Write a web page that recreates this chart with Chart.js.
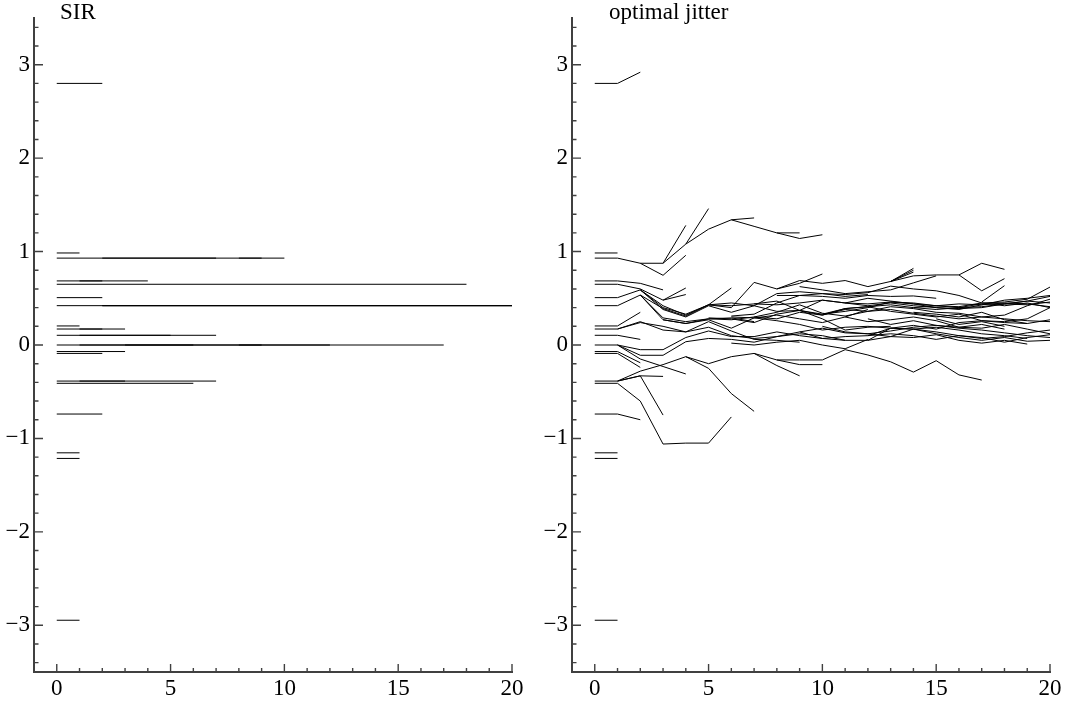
<!DOCTYPE html>
<html>
<head>
<meta charset="utf-8">
<script src="https://cdn.jsdelivr.net/npm/chart.js@4/dist/chart.umd.min.js"></script>
<style>
  html, body { margin: 0; padding: 0; background: #fff; }
  #wrap { position: relative; width: 1072px; height: 701px; }
  .panel { position: absolute; top: 0; width: 536px; height: 701px; }
</style>
</head>
<body>
<div id="wrap">
  <div class="panel" style="left:0"><canvas id="sir" width="536" height="701"></canvas></div>
  <div class="panel" style="left:536px"><canvas id="jitter" width="536" height="701"></canvas></div>
</div>
<script>
// Panel titles and axis ticks
const sirTitle = 'SIR';
const jitterTitle = 'optimal jitter';
const xTickValues = [0, 5, 10, 15, 20];
const yTickValues = [-3, -2, -1, 0, 1, 2, 3];
const xMinorStep = 1;
const yMinorStep = 0.2;

// SIR: particle values stay fixed; each row is one ancestry segment
const sirLevel = [2.80, 0.985, 0.93, 0.93, 0.93, 0.686, 0.686, 0.65, 0.507, 0.421, 0.421, 0.421,
                  0.204, 0.171, 0.171, 0.104, 0.104, 0.0, 0.0, 0.0, 0.0, -0.07, -0.09,
                  -0.386, -0.386, -0.41, -0.739, -1.154, -1.214, -2.946];
const sirFrom  = [0, 0, 0, 2, 8, 0, 1, 0, 0, 0, 2, 2,
                  0, 0, 1, 0, 1, 0, 1, 3, 8, 0, 0,
                  0, 1, 0, 0, 0, 0, 0];
const sirTo    = [2, 1, 10, 7, 9, 4, 2, 18, 2, 20, 20, 20,
                  1, 3, 2, 7, 5, 17, 12, 6, 9, 3, 2,
                  7, 3, 6, 2, 1, 1, 1];

// Optimal jitter: each path starts at step jitterStart[i] and moves each step
const jitterStart = [0, 0, 0, 3, 4, 6, 8, 2, 0, 0, 3, 0, 0,
                     2, 2, 2, 2, 0, 0, 7, 9, 11, 12, 14, 6,
                     8, 13, 13, 13, 16, 9, 8, 17, 12, 10, 14, 5, 3,
                     0, 1, 0, 1, 0, 0, 1, 0, 4, 8, 7, 1, 1, 0, 0, 0, 0, 0, 6,
                     10, 7, 9, 11, 5, 12, 6, 15];
const jitterPaths = [
  [2.80, 2.80, 2.92],
  [0.985, 0.985],
  [0.93, 0.93, 0.875, 0.875, 1.28],
  [0.875, 1.08, 1.24, 1.34, 1.36],
  [1.08, 1.46],
  [1.34, 1.27, 1.20, 1.20],
  [1.20, 1.14, 1.18],
  [0.875, 0.746, 0.96],
  [0.686, 0.686, 0.66, 0.59],
  [0.65, 0.65, 0.60, 0.48, 0.61],
  [0.48, 0.54],
  [0.507, 0.507, 0.59, 0.42, 0.32, 0.43, 0.61],
  [0.421, 0.421, 0.535, 0.39, 0.31, 0.43, 0.40, 0.67, 0.60, 0.66, 0.76],
  [0.59, 0.40, 0.33, 0.43, 0.42, 0.44, 0.43, 0.45, 0.48, 0.45, 0.44, 0.46, 0.45, 0.42, 0.41, 0.45, 0.46, 0.49, 0.62],
  [0.59, 0.38, 0.30, 0.42, 0.35, 0.42, 0.36, 0.37, 0.33, 0.39, 0.41, 0.43, 0.40, 0.38, 0.40, 0.44, 0.44, 0.47, 0.52],
  [0.535, 0.29, 0.25, 0.28, 0.27, 0.30, 0.28, 0.35, 0.32, 0.38, 0.36, 0.38, 0.34, 0.31, 0.28, 0.30, 0.32, 0.42, 0.49],
  [0.535, 0.27, 0.23, 0.27, 0.18, 0.29, 0.26, 0.22, 0.16, 0.19, 0.20, 0.18, 0.21, 0.17, 0.24, 0.26, 0.24, 0.23, 0.27],
  [0.171, 0.171, 0.24, 0.20, 0.14, 0.19, 0.10, 0.07, 0.09, 0.14, 0.07, 0.09, 0.10, 0.18, 0.17, 0.14, 0.10, 0.07, 0.09, 0.13, 0.16],
  [0.0, 0.0, -0.11, -0.11, 0.035, 0.07, 0.06, 0.03, 0.09, 0.12, 0.10, 0.05, 0.05, 0.18, 0.17, 0.12, 0.08, 0.05, 0.08, 0.04, 0.05],
  [0.44, 0.47, 0.37, 0.48, 0.45, 0.42, 0.45, 0.42, 0.40, 0.39, 0.40, 0.44, 0.43, 0.46],
  [0.37, 0.32, 0.39, 0.41, 0.36, 0.33, 0.30, 0.33, 0.26, 0.25, 0.28, 0.40],
  [0.30, 0.25, 0.27, 0.30, 0.26, 0.19, 0.18, 0.22, 0.17, 0.12],
  [0.10, 0.12, 0.10, 0.06, 0.10, 0.08, 0.03, 0.08, 0.11],
  [0.40, 0.42, 0.44, 0.43, 0.48, 0.50, 0.53],
  [0.31, 0.33, 0.45, 0.53, 0.55, 0.54, 0.56, 0.63, 0.60, 0.58, 0.53, 0.45, 0.42, 0.45, 0.40],
  [0.60, 0.69, 0.66, 0.69, 0.625, 0.68, 0.82],
  [0.68, 0.80],
  [0.68, 0.78],
  [0.68, 0.74, 0.75, 0.75, 0.875, 0.81],
  [0.75, 0.58, 0.71],
  [0.625, 0.59, 0.55, 0.57, 0.59, 0.665, 0.74],
  [0.53, 0.53, 0.52, 0.50, 0.53, 0.52, 0.525, 0.50],
  [0.46, 0.635],
  [0.28, 0.22, 0.26, 0.21, 0.19, 0.22, 0.17],
  [0.20, 0.14, 0.12, 0.09, 0.08, 0.11, 0.05, 0.02, 0.05, 0.01],
  [0.35, 0.33, 0.30, 0.35, 0.27, 0.23],
  [0.29, 0.28, 0.24, 0.33, 0.37, 0.28, 0.16, 0.19, 0.20],
  [0.27, 0.23, 0.28, 0.29, 0.25],
  [0.204, 0.204, 0.35],
  [0.171, 0.25, 0.16, 0.14, 0.25, 0.15, 0.06, 0.05, 0.03],
  [0.104, 0.104, 0.06],
  [0.0, -0.05, -0.05, 0.08, 0.15, 0.09, 0.09, 0.14, 0.10, 0.07, 0.05],
  [-0.07, -0.07, -0.19],
  [-0.09, -0.09, -0.24],
  [0.0, -0.15, -0.23, -0.31],
  [-0.386, -0.386, -0.28, -0.21, -0.125, -0.20, -0.125, -0.09, -0.16, -0.21, -0.21],
  [-0.125, -0.25, -0.52, -0.71],
  [-0.16, -0.16, -0.16, -0.05, -0.107, -0.18, -0.29, -0.168, -0.32, -0.375],
  [-0.09, -0.22, -0.33],
  [-0.386, -0.33, -0.336],
  [-0.386, -0.33, -0.75],
  [-0.41, -0.41, -0.60, -1.06, -1.05, -1.05, -0.77],
  [-0.739, -0.739, -0.80],
  [-1.154, -1.154],
  [-1.214, -1.214],
  [-2.946, -2.946],
  [0.02, 0.0, 0.03, 0.05, 0.0, -0.04, 0.06],
  [0.33, 0.36, 0.40, 0.46, 0.44, 0.40, 0.38, 0.43, 0.45, 0.44, 0.41],
  [0.30, 0.35, 0.43, 0.34, 0.31, 0.36, 0.41, 0.39, 0.35, 0.34, 0.30, 0.28, 0.26, 0.25],
  [0.14, 0.18, 0.13, 0.12, 0.15, 0.19, 0.21, 0.18, 0.16, 0.13, 0.10, 0.08],
  [0.45, 0.50, 0.47, 0.44, 0.42, 0.40, 0.41, 0.44, 0.47, 0.45],
  [0.43, 0.45, 0.42, 0.55, 0.57, 0.55, 0.52, 0.54],
  [0.05, 0.09, 0.17, 0.19, 0.16, 0.12, 0.10, 0.07],
  [0.30, 0.29, 0.32, 0.28, 0.24, 0.30, 0.38],
  [0.28, 0.22, 0.25, 0.20]
];

const AXIS_COLOR = '#404040';
const LABEL_FONT = { family: '"Liberation Serif", "Times New Roman", serif', size: 23 };
const FONT_CSS = '23px "Liberation Serif", "Times New Roman", serif';

function lineDataset(points) {
  return {
    data: points,
    borderColor: '#000',
    borderWidth: 1,
    pointRadius: 0,
    fill: false,
    tension: 0
  };
}

const sirDatasets = sirLevel.map((v, i) =>
  lineDataset([{ x: sirFrom[i], y: v }, { x: sirTo[i], y: v }]));

const jitterDatasets = jitterPaths.map((vals, i) =>
  lineDataset(vals.map((v, k) => ({ x: jitterStart[i] + k, y: v }))));

// Short tick marks pointing into the plot, major and minor
const inwardTicks = {
  id: 'inwardTicks',
  afterDraw(chart) {
    const { ctx, chartArea: a, scales: { x, y } } = chart;
    ctx.save();
    ctx.strokeStyle = AXIS_COLOR;
    ctx.lineWidth = 1.4;
    ctx.beginPath();
    const n0 = Math.ceil(y.min / yMinorStep + 1e-9), n1 = Math.floor(y.max / yMinorStep - 1e-9);
    for (let n = n0; n <= n1; n++) {
      const v = n * yMinorStep;
      const major = Math.abs(v - Math.round(v)) < 1e-6;
      const py = y.getPixelForValue(v);
      ctx.moveTo(a.left, py);
      ctx.lineTo(a.left + (major ? 9 : 4.5), py);
    }
    for (let t = xTickValues[0]; t <= xTickValues[xTickValues.length - 1]; t += xMinorStep) {
      const major = xTickValues.includes(t);
      const px = x.getPixelForValue(t);
      ctx.moveTo(px, a.bottom);
      ctx.lineTo(px, a.bottom - (major ? 8 : 4));
    }
    ctx.stroke();
    ctx.restore();
  }
};

const panelTitle = {
  id: 'panelTitle',
  afterDraw(chart, args, opts) {
    const ctx = chart.ctx;
    ctx.save();
    ctx.font = FONT_CSS;
    ctx.fillStyle = '#000';
    ctx.textBaseline = 'alphabetic';
    ctx.textAlign = 'left';
    ctx.fillText(opts.text, opts.x, opts.y);
    ctx.restore();
  }
};

function formatTick(v) {
  return v < 0 ? '\u2212' + Math.abs(v) : String(v);
}

function makePanel(id, title, datasets, frame) {
  return new Chart(document.getElementById(id), {
    type: 'line',
    data: { datasets },
    options: {
      responsive: false,
      animation: false,
      devicePixelRatio: 1,
      events: [],
      layout: { padding: { top: 18, right: frame.padRight, left: 0, bottom: 0 } },
      plugins: {
        legend: { display: false },
        tooltip: { enabled: false },
        panelTitle: { text: title, x: frame.titleX, y: 19 }
      },
      scales: {
        x: {
          type: 'linear',
          min: -1,
          max: 20,
          grid: { display: false, drawTicks: false },
          border: { display: true, color: AXIS_COLOR, width: 2 },
          ticks: { font: LABEL_FONT, color: '#000', padding: 3, maxRotation: 0, autoSkip: false, callback: formatTick },
          afterBuildTicks: s => { s.ticks = xTickValues.map(v => ({ value: v })); },
          afterFit: s => { s.height = 29; }
        },
        y: {
          type: 'linear',
          min: -3.5,
          max: 3.5,
          grid: { display: false, drawTicks: false },
          border: { display: true, color: AXIS_COLOR, width: 2 },
          ticks: { font: LABEL_FONT, color: '#000', padding: 4, autoSkip: false, callback: formatTick },
          afterBuildTicks: s => { s.ticks = yTickValues.map(v => ({ value: v })); },
          afterFit: s => { s.width = frame.axisWidth; }
        }
      }
    },
    plugins: [inwardTicks, panelTitle]
  });
}

makePanel('sir', sirTitle, sirDatasets, { axisWidth: 34, padRight: 24, titleX: 60 });
makePanel('jitter', jitterTitle, jitterDatasets, { axisWidth: 36, padRight: 22, titleX: 73 });
</script>
</body>
</html>
